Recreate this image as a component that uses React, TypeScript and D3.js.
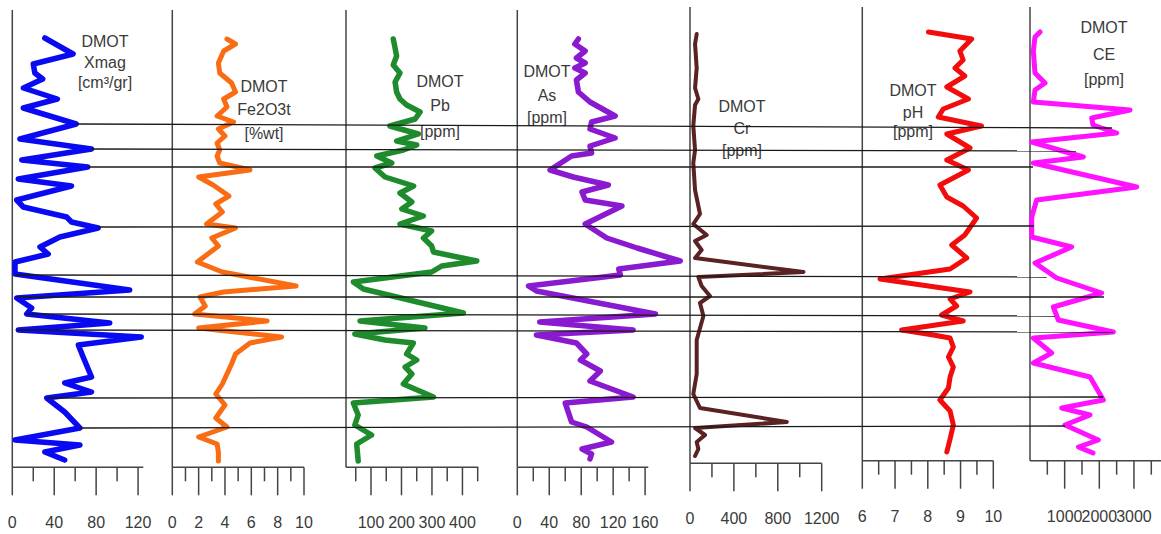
import React from 'react';
import * as d3 from 'd3';

// ---- data: [depth, value] ----
const xmag: [number, number][] = [
  [38, 31], [54, 58], [64, 20], [73, 21.5], [79, 29], [88, 10.6], [99, 43], [108, 10.5],
  [124, 61], [139, 7.3], [149, 75.6], [160, 9], [167, 72], [179, 5.7], [186, 56.5], [200, 4.2],
  [207, 10.5], [217, 51.8], [222, 56.5], [228, 82], [237, 45.4], [247, 26.4], [254, 34.3], [262, 2.6],
  [274, 2.6], [290, 112], [298, 4.2], [308, 18.5], [314, 13.7], [323, 93], [330, 5.7], [337, 123],
  [345, 63], [357, 67.6], [377, 75.6], [383, 50], [392, 75.6], [398, 32.8], [412, 50], [428, 64.5],
  [440, 2.6], [445, 64.5], [452, 31], [460, 50],
];
const fe2o3: [number, number][] = [
  [39, 4.15], [44, 4.8], [51, 3.9], [63, 3.5], [73, 3.6], [83, 4.5], [92, 4.8], [99, 3.9],
  [107, 4.15], [116, 3.4], [122, 4.65], [129, 3.5], [136, 4.0], [143, 3.4], [150, 3.6], [156, 3.4],
  [163, 3.6], [170, 5.9], [177, 2.0], [185, 3.1], [196, 4.3], [204, 3.3], [212, 3.8], [224, 2.6],
  [228, 4.8], [238, 3.0], [246, 3.5], [262, 1.9], [272, 3.8], [286, 9.4], [292, 3.9], [297, 2.1],
  [306, 2.5], [314, 1.7], [321, 7.2], [328, 2.0], [337, 8.3], [343, 5.9], [354, 4.8], [364, 4.5],
  [374, 4.15], [384, 3.8], [394, 3.3], [405, 4.0], [418, 3.3], [427, 4.15], [437, 2.0], [444, 3.4],
  [452, 3.5], [461, 3.5],
];
const pb: [number, number][] = [
  [39, 173], [48, 179], [56, 184], [65, 173], [73, 195], [82, 179], [92, 184], [99, 195],
  [105, 217], [112, 261], [119, 245], [126, 162], [134, 255], [141, 184], [145, 250], [150, 206],
  [156, 119], [163, 168], [168, 113], [177, 146], [186, 240], [193, 195], [202, 234], [209, 201],
  [216, 272], [224, 195], [231, 299], [238, 272], [246, 299], [252, 305], [261, 447], [266, 332],
  [272, 299], [282, 42], [289, 75], [313, 403], [321, 64], [328, 277], [334, 47], [340, 146],
  [343, 239], [354, 217], [360, 250], [367, 212], [374, 234], [384, 206], [397, 305], [403, 42],
  [415, 58], [425, 47], [435, 102], [444, 53], [461, 58],
];
const as_: [number, number][] = [
  [39, 76.5], [44, 72], [51, 85], [58, 74], [63, 85], [68, 72], [73, 85], [80, 74],
  [92, 76.5], [102, 91], [116, 122.5], [122, 93], [129, 91], [138, 122.5], [146, 91], [153, 93],
  [156, 68], [170, 41], [177, 70], [185, 114], [192, 81], [200, 85], [206, 131], [224, 85],
  [238, 112], [248, 150], [261, 204], [269, 127], [275, 129], [286, 14], [291, 24], [314, 173],
  [322, 28], [330, 145], [335, 24], [343, 74], [354, 87], [360, 79], [371, 104], [381, 91],
  [397, 145], [403, 60], [422, 68], [427, 87], [442, 118], [449, 81], [454, 93], [459, 91],
];
const cr: [number, number][] = [
  [34, 61], [44, 46], [68, 61], [88, 46], [99, 76], [105, 46], [126, 30], [150, 46],
  [163, 30], [190, 46], [214, 91], [224, 30], [235, 152], [241, 46], [250, 106], [258, 46],
  [272, 1034], [277, 76], [286, 106], [296, 182], [303, 91], [316, 122], [340, 61], [374, 61],
  [394, 30], [408, 91], [422, 882], [428, 46], [435, 137], [442, 61], [449, 76], [456, 46],
];
const ph: [number, number][] = [
  [32, 8.02], [39, 9.34], [51, 8.98], [60, 9.08], [68, 8.83], [76, 9.13], [87, 8.58], [99, 9.24],
  [109, 8.47], [117, 8.32], [126, 9.64], [134, 8.58], [148, 9.29], [160, 8.58], [170, 9.24], [185, 8.37],
  [197, 8.58], [206, 9.08], [218, 9.49], [235, 9.13], [245, 8.73], [258, 9.19], [269, 8.68], [279, 6.54],
  [292, 9.29], [299, 8.68], [306, 8.88], [315, 8.42], [321, 9.08], [330, 7.2], [335, 8.17], [338, 8.68],
  [347, 8.78], [357, 8.63], [367, 8.78], [377, 8.68], [388, 8.63], [400, 8.37], [411, 8.68], [425, 8.78],
  [439, 8.68], [452, 8.58],
];
const ce: [number, number][] = [
  [32, 289], [37, 144], [51, 96], [73, 144], [83, 433], [90, 144], [102, 96], [110, 2886],
  [118, 1780], [125, 1818], [133, 2501], [142, 49], [157, 1539], [163, 96], [187, 3079], [200, 192],
  [217, 49], [237, 49], [247, 1203], [263, 144], [278, 770], [293, 2068], [307, 673], [320, 818],
  [332, 2405], [338, 96], [353, 625], [363, 96], [377, 1732], [400, 2116], [408, 914], [415, 1732],
  [425, 1010], [440, 1972], [447, 1400], [453, 1818],
];

// correlation lines: [startDepth, endDepth, start Xmag value, end CE value]
const corrLines: [number, number, number, number][] = [
  [124, 128, 61, 2366], [149, 151, 75.6, 1328], [167, 167, 72, 87], [227, 226, 82, 115],
  [275, 277, 2.6, 482], [297, 297, 4.2, 2136], [314, 316, 13.7, 721], [330, 332, 4.2, 2395],
  [398, 397, 32.8, 2107], [428, 426, 64.5, 1010],
];

// ticks and labels
const xmagTicks = [0, 20, 40, 60, 80, 100, 120];
const xmagLabels = [0, 40, 80, 120];
const feTicks = [0, 1, 2, 3, 4, 5, 6, 7, 8, 9, 10];
const feLabels = [0, 2, 4, 6, 8, 10];
const pbTicks = [50, 100, 150, 200, 250, 300, 350, 400, 450];
const pbLabels = [100, 200, 300, 400];
const asTicks = [0, 20, 40, 60, 80, 100, 120, 140, 160];
const asLabels = [0, 40, 80, 120, 160];
const crTicks = [0, 200, 400, 600, 800, 1000, 1200];
const crLabels = [0, 400, 800, 1200];
const phTicks = [6, 6.5, 7, 7.5, 8, 8.5, 9, 9.5, 10];
const phLabels = [6, 7, 8, 9, 10];
const ceTicks = [500, 1000, 1500, 2000, 2500, 3000, 3500];
const ceLabels = [1000, 2000, 3000];

type PanelCfg = {
  title: string[];
  data: [number, number][];
  domain: [number, number];
  range: [number, number];
  top: number;
  axisY: number;
  ticks: number[];
  labels: number[];
  color: string;
  width: number;
  titleX: number;
  titleY: number[];
};

const panels: PanelCfg[] = [
  { title: ['DMOT', 'Xmag', '[cm³/gr]'], data: xmag, domain: [0, 125], range: [12.3, 143.3], top: 10, axisY: 467.3,
    ticks: xmagTicks, labels: xmagLabels, color: '#0a0af2', width: 5.5, titleX: 105, titleY: [47, 67.5, 87.5] },
  { title: ['DMOT', 'Fe2O3t', '[%wt]'], data: fe2o3, domain: [0, 10], range: [172.3, 304], top: 10, axisY: 467.3,
    ticks: feTicks, labels: feLabels, color: '#fa6c14', width: 5, titleX: 264, titleY: [92, 115, 139] },
  { title: ['DMOT', 'Pb', '[ppm]'], data: pb, domain: [18, 452], range: [346, 478.3], top: 10, axisY: 467.3,
    ticks: pbTicks, labels: pbLabels, color: '#1e8c2c', width: 5.5, titleX: 440, titleY: [87, 111, 137] },
  { title: ['DMOT', 'As', '[ppm]'], data: as_, domain: [0, 164], range: [517.3, 648.3], top: 10, axisY: 467.3,
    ticks: asTicks, labels: asLabels, color: '#8a1acf', width: 5.5, titleX: 547, titleY: [77, 101, 123] },
  { title: ['DMOT', 'Cr', '[ppm]'], data: cr, domain: [0, 1200], range: [690, 821.7], top: 7, axisY: 463.3,
    ticks: crTicks, labels: crLabels, color: '#5a2222', width: 4, titleX: 742, titleY: [112, 134, 156] },
  { title: ['DMOT', 'pH', '[ppm]'], data: ph, domain: [6, 10], range: [862.3, 993.3], top: 7, axisY: 460.7,
    ticks: phTicks, labels: phLabels, color: '#f20c0c', width: 5, titleX: 913, titleY: [96, 118, 137] },
  { title: ['DMOT', 'CE', '[ppm]'], data: ce, domain: [0, 3780], range: [1030, 1161], top: 7, axisY: 460.7,
    ticks: ceTicks, labels: ceLabels, color: '#ff12ff', width: 5, titleX: 1104, titleY: [33, 60, 85] },
];

const AXIS = '#444';
const TEXT = '#3a3a3a';
const FONT = "'Liberation Sans', Arial, sans-serif";

const yScale = d3.scaleLinear().domain([0, 534]).range([0, 534]);

function Panel({ p }: { p: PanelCfg }) {
  const x = d3.scaleLinear().domain(p.domain).range(p.range);
  const line = d3.line<[number, number]>().x(d => x(d[1])).y(d => yScale(d[0])).curve(d3.curveLinear);
  const major = new Set(p.labels);
  return (
    <g>
      <line x1={p.range[0]} x2={p.range[0]} y1={p.top} y2={p.axisY} stroke={AXIS} strokeWidth={1.5} />
      <line x1={p.range[0]} x2={p.range[1]} y1={p.axisY} y2={p.axisY} stroke={AXIS} strokeWidth={1.5} />
      {p.ticks.map(t => (
        <line key={t} x1={x(t)} x2={x(t)} y1={p.axisY} y2={p.axisY + (major.has(t) ? 28 : 14)} stroke={AXIS} strokeWidth={1.5} />
      ))}
      {p.labels.map(t => (
        <text key={t} x={x(t)} y={p.axisY + 61} textAnchor="middle" fontSize={16} fill={TEXT}>{t}</text>
      ))}
      <path d={line(p.data) || ''} fill="none" stroke={p.color} strokeWidth={p.width} strokeLinejoin="round" strokeLinecap="round" />
      {p.title.map((t, i) => (
        <text key={i} x={p.titleX} y={p.titleY[i]} textAnchor="middle" fontSize={16} fill={TEXT}>{t}</text>
      ))}
    </g>
  );
}

export default function App() {
  const first = panels[0];
  const last = panels[panels.length - 1];
  const xStart = d3.scaleLinear().domain(first.domain).range(first.range);
  const xEnd = d3.scaleLinear().domain(last.domain).range(last.range);
  return (
    <svg width={1161} height={534} fontFamily={FONT}
      style={{ position: 'absolute', left: 0, top: 0, background: '#fff', display: 'block' }}>
      <rect x={0} y={0} width={1161} height={534} fill="#fff" />
      {panels.map((p, i) => <Panel key={i} p={p} />)}
      {corrLines.map((l, i) => (
        <line key={i} x1={xStart(l[2])} y1={yScale(l[0])} x2={xEnd(l[3])} y2={yScale(l[1])} stroke="#1a1a1a" strokeWidth={1.3} />
      ))}
    </svg>
  );
}
